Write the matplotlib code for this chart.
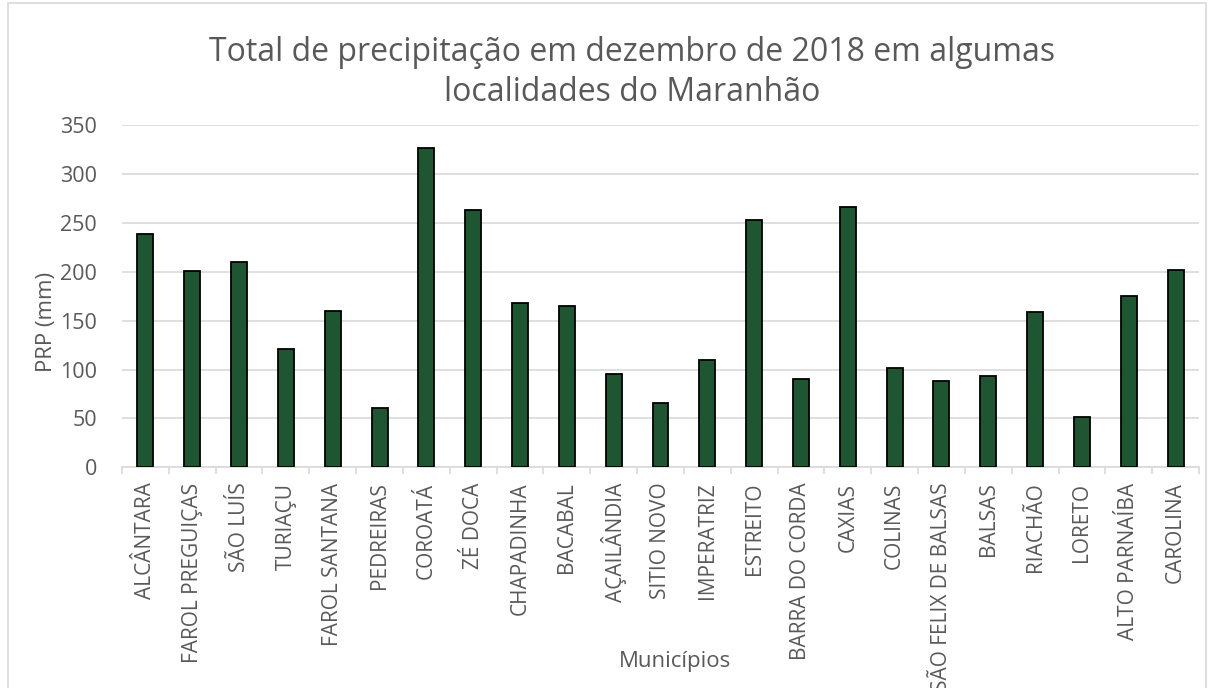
import numpy as np
import matplotlib.pyplot as plt

plt.rcParams['font.family'] = ['Open Sans', 'DejaVu Sans']

municipios = ['ALCÂNTARA', 'FAROL PREGUIÇAS', 'SÃO LUÍS', 'TURIAÇU', 'FAROL SANTANA',
              'PEDREIRAS', 'COROATÁ', 'ZÉ DOCA', 'CHAPADINHA', 'BACABAL', 'AÇAILÂNDIA',
              'SITIO NOVO', 'IMPERATRIZ', 'ESTREITO', 'BARRA DO CORDA', 'CAXIAS', 'COLINAS',
              'SÃO FELIX DE BALSAS', 'BALSAS', 'RIACHÃO', 'LORETO', 'ALTO PARNAÍBA', 'CAROLINA']
prp = [239, 201, 210, 121, 160, 61, 326, 263, 168, 165, 95,
       66, 110, 253, 90, 266, 102, 88, 93, 159, 51, 175, 202]

grid_c = '#d9d9d9'
txt_c = '#595959'

W, H = 1214, 688
fig = plt.figure(figsize=(W / 100, H / 100), dpi=100)
ax = fig.add_axes([122 / W, 1 - 467.3 / H, 1077 / W, 342.3 / H])

x = np.arange(len(municipios))
ax.bar(x, prp, width=0.34, color='#1e5631', edgecolor='black', linewidth=1.3, zorder=3)

ax.set_xlim(-0.5, len(municipios) - 0.5)
ax.set_ylim(0, 350)
ax.set_yticks(range(0, 351, 50))
ax.yaxis.grid(True, color=grid_c, linewidth=1.2, zorder=0)
ax.tick_params(axis='y', length=0, labelsize=15.5, labelcolor=txt_c, pad=18)

ax.set_xticks(x)
ax.set_xticklabels(municipios, rotation=90, fontsize=15, color=txt_c)
ax.set_xticks(np.arange(-0.5, len(municipios)), minor=True)
ax.tick_params(axis='x', which='major', length=0, pad=11)
ax.tick_params(axis='x', which='minor', length=5, color=grid_c, width=1.2)

for s in ['top', 'right', 'left']:
    ax.spines[s].set_visible(False)
ax.spines['bottom'].set_color(grid_c)
ax.spines['bottom'].set_linewidth(1.2)

ax.set_ylabel('PRP (mm)', fontsize=16, color=txt_c)
ax.yaxis.set_label_coords((47 - 122) / 1077, (467.3 - 322) / 342.3)
ax.yaxis.label.set_va('center')

fig.text(675 / W, 1 - 662 / H, 'Municípios', ha='center', va='center', fontsize=16, color=txt_c)
fig.text(632 / W, 1 - 61 / H, 'Total de precipitação em dezembro de 2018 em algumas',
         ha='center', va='baseline', fontsize=23, color=txt_c)
fig.text(632 / W, 1 - 101 / H, 'localidades do Maranhão',
         ha='center', va='baseline', fontsize=23, color=txt_c)

fig.patches.append(plt.Rectangle((8 / W, -0.01), 1 - 16 / W, 1.01 - 3 / H, transform=fig.transFigure,
                                 fill=False, edgecolor=grid_c, linewidth=1.2))

fig.savefig('out.png', dpi=100)
